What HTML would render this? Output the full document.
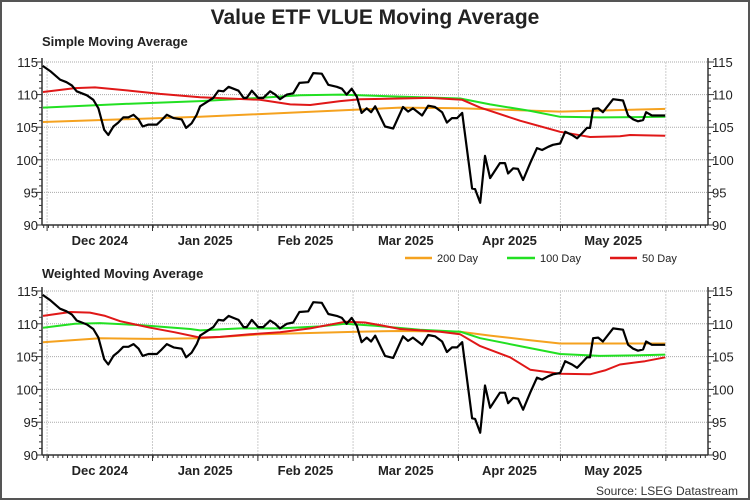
<!DOCTYPE html>
<html><head><meta charset="utf-8"><style>
html,body{margin:0;padding:0;background:#fff;}
svg{display:block;font-family:"Liberation Sans",Arial,sans-serif;}
</style></head><body>
<svg id="chart" width="750" height="500" viewBox="0 0 750 500">
<rect x="1" y="1" width="748" height="498" fill="#fff" stroke="#555" stroke-width="2"/>
<text x="375" y="24" text-anchor="middle" font-size="21" font-weight="bold" fill="#222">Value ETF VLUE Moving Average</text>
<text x="42" y="46" font-size="13" font-weight="bold" fill="#222">Simple Moving Average</text>
<text x="42" y="278" font-size="13" font-weight="bold" fill="#222">Weighted Moving Average</text>
<g>
<line x1="405" y1="258" x2="432" y2="258" stroke="#f5a21f" stroke-width="2.5"/>
<text x="437" y="262" font-size="11" fill="#222">200 Day</text>
<line x1="507" y1="258" x2="535" y2="258" stroke="#22e022" stroke-width="2.5"/>
<text x="540" y="262" font-size="11" fill="#222">100 Day</text>
<line x1="610" y1="258" x2="637" y2="258" stroke="#e01818" stroke-width="2.5"/>
<text x="642" y="262" font-size="11" fill="#222">50 Day</text>
</g>
<text x="738" y="495" text-anchor="end" font-size="12" fill="#333">Source: LSEG Datastream</text>
</svg>
<script>
// price (days since 1 Dec 2024)
const priceDays=[-1.3,0.9,3.8,5.7,7.3,8.7,11.7,13.6,15.1,16.8,18.0,19.5,20.9,22.4,23.9,25.4,26.9,28.1,29.8,32.3,33.7,35.2,37.2,39.6,40.9,42.5,44.0,45.0,46.5,48.9,50.4,51.9,53.4,54.8,56.3,57.8,58.7,60.2,62.1,63.6,65.6,67.1,68.5,70.5,72.4,74.2,76.8,78.3,80.8,82.7,85.2,86.7,88.1,89.6,91.1,92.5,94.0,95.3,96.5,99.4,101.8,104.7,106.2,107.6,110.3,112.1,114.1,116.2,117.6,119.1,120.6,122.1,125.0,125.9,127.4,128.8,130.3,133.2,134.7,135.6,137.1,138.5,140.0,142.1,144.1,145.6,147.4,148.8,150.9,152.4,154.4,155.9,157.4,158.8,159.7,160.6,162.1,163.5,166.5,169.4,170.9,172.4,173.8,175.3,176.2,177.9,181.8];
const priceVals=[114.4,113.6,112.3,111.9,111.4,110.5,109.9,109.2,107.9,104.6,103.8,105.1,105.7,106.5,106.5,106.9,106.2,105.1,105.4,105.4,106.1,106.9,106.4,106.2,104.9,105.6,106.9,108.2,108.7,109.5,110.6,110.5,111.2,110.9,110.6,109.5,109.5,110.6,109.5,109.5,110.5,110.0,109.3,110.0,110.2,111.8,111.9,113.3,113.2,111.5,111.2,110.9,110.0,110.9,109.7,107.2,107.9,107.3,108.2,105.1,104.8,108.1,107.4,107.9,106.8,108.3,108.1,107.3,105.7,106.4,106.4,107.2,95.6,95.5,93.4,100.6,97.2,99.5,99.5,97.9,98.7,98.6,96.9,99.5,101.8,101.5,102.0,102.3,102.5,104.3,103.8,103.3,104.1,104.9,104.9,107.8,107.9,107.3,109.3,109.1,106.8,106.2,105.9,106.1,107.3,106.8,106.8];
// simple MAs
const sma200Days=[-1.2,45,91.2,103.8,121.5,150.9,181.8];
const sma200Vals=[105.8,106.6,107.7,108.0,107.9,107.4,107.8];
const sma100Days=[-1.2,24.4,45,62.6,74.4,86.2,103.8,121.5,130.3,142.1,150.9,162.6,181.8];
const sma100Vals=[108.0,108.6,109.0,109.5,109.9,110.0,109.7,109.4,108.5,107.5,106.6,106.5,106.6];
const sma50Days=[-1.2,8.2,14.1,24.4,33.2,45,62.6,71.5,77.4,86.2,92.1,103.8,112.6,122.1,127.4,139.1,150.9,159.7,168.5,171.5,181.8];
const sma50Vals=[110.4,111.0,111.1,110.6,110.1,109.6,109.2,108.5,108.4,109.0,109.3,109.4,109.5,109.2,108.0,106.0,104.3,103.5,103.6,103.8,103.7];
// weighted MAs
const wma200Days=[-1.2,15.6,30.3,45,63.2,91.2,103.8,121.5,130.3,142.1,150.9,181.8];
const wma200Vals=[107.2,107.8,107.7,107.8,108.4,108.8,108.9,108.8,108.2,107.5,107.0,107.0];
const wma100Days=[-1.2,8.2,15.6,27.4,42.1,45,56.8,68.5,80.3,87.6,96.5,109.7,121.5,127.4,139.1,150.9,162.6,174.4,181.8];
const wma100Vals=[109.4,110.0,110.1,109.8,109.2,109.0,109.3,109.3,109.6,110.0,109.7,109.1,108.8,107.8,106.6,105.4,105.1,105.2,105.3];
const wma50Days=[-1.2,6.8,12.6,17.1,21.5,30.3,37.6,45,50.9,59.7,68.5,77.4,87.6,93.5,97.9,103.8,115.6,121.5,127.4,136.2,142.1,150.9,159.7,164.1,168.5,175.9,181.8];
const wma50Vals=[111.2,111.8,111.7,111.2,110.4,109.4,108.7,107.9,108.0,108.4,108.7,109.3,110.3,110.2,109.8,109.2,108.8,108.4,106.6,104.9,103.0,102.4,102.3,102.9,103.8,104.3,104.9];
const yTicks=[90,95,100,105,110,115];
const monthStarts=[0,31,62,90,121,151,182];
const monthLabels=["Dec 2024","Jan 2025","Feb 2025","Mar 2025","Apr 2025","May 2025"];

const NS="http://www.w3.org/2000/svg";
const svg=document.getElementById('chart');
const X0=42,X1=708,D0=-1.5,D1=194.4;
function xs(d){return X0+(d-D0)/(D1-D0)*(X1-X0);}
function mk(tag,attrs,parent){const e=document.createElementNS(NS,tag);for(const k in attrs)e.setAttribute(k,attrs[k]);(parent||svg).appendChild(e);return e;}

function panel(key,top,bottom,series){
  const ys=v=>bottom-(v-90)/25*(bottom-top);
  const g=mk('g',{});
  
  
  yTicks.forEach(t=>{
    const l=mk('line',{x1:X0,x2:X1,y1:ys(t),y2:ys(t),stroke:'#aaa','stroke-width':1,'stroke-dasharray':'1,1'},g);
    
    
    const a=mk('text',{x:X0-4,y:ys(t)+5,'text-anchor':'end','font-size':13,fill:'#222'},g);a.textContent=t;
    
    
    const b=mk('text',{x:X1+4,y:ys(t)+5,'font-size':13,fill:'#222'},g);b.textContent=t;
    
    
  });
  for(let v=90;v<=115;v++){const L=v%5?3:6;
    mk('line',{x1:X0-L,x2:X0,y1:ys(v),y2:ys(v),stroke:'#333'},g);
    mk('line',{x1:X1,x2:X1+L,y1:ys(v),y2:ys(v),stroke:'#333'},g);}
  monthStarts.forEach((d,i)=>{
    const l=mk('line',{x1:xs(d),x2:xs(d),y1:top,y2:bottom,stroke:'#ccc','stroke-width':1,'stroke-dasharray':'2,1'},g);
    
    
    mk('line',{x1:xs(d),x2:xs(d),y1:bottom,y2:bottom+6,stroke:'#333'},g);
    if(i<monthLabels.length){
      const t=mk('text',{x:(xs(d)+xs(monthStarts[i+1]))/2,y:bottom+20,'text-anchor':'middle','font-size':13,'font-weight':'bold',fill:'#222'},g);
      t.textContent=monthLabels[i];
      
      
    }
  });
  for(let d=-1;d<=194;d+=1.4){mk('line',{x1:xs(d),x2:xs(d),y1:bottom,y2:bottom+3,stroke:'#333'},g);}
  mk('line',{x1:X0,x2:X0,y1:top-4,y2:bottom,stroke:'#333','stroke-width':1.5},g);
  mk('line',{x1:X1,x2:X1,y1:top-4,y2:bottom,stroke:'#333','stroke-width':1.5},g);
  mk('line',{x1:X0,x2:X1,y1:bottom,y2:bottom,stroke:'#333','stroke-width':1.5},g);
  series.forEach(s=>{
    const p=mk('polyline',{points:s.d.map((d,i)=>xs(d).toFixed(1)+','+ys(s.v[i]).toFixed(1)).join(' '),fill:'none',stroke:s.c,'stroke-width':s.w,'stroke-linejoin':'round'},g);
    
    
  });
}
panel('simple',62,225,[
 {n:'200-day-line',d:sma200Days,v:sma200Vals,c:'#f5a21f',w:2},
 {n:'100-day-line',d:sma100Days,v:sma100Vals,c:'#22e022',w:2},
 {n:'50-day-line',d:sma50Days,v:sma50Vals,c:'#e01818',w:2},
 {n:'price-line',d:priceDays,v:priceVals,c:'#000',w:2.2}]);
panel('weighted',291,455,[
 {n:'200-day-line',d:wma200Days,v:wma200Vals,c:'#f5a21f',w:2},
 {n:'100-day-line',d:wma100Days,v:wma100Vals,c:'#22e022',w:2},
 {n:'50-day-line',d:wma50Days,v:wma50Vals,c:'#e01818',w:2},
 {n:'price-line',d:priceDays,v:priceVals,c:'#000',w:2.2}]);
</script>
</body></html>
